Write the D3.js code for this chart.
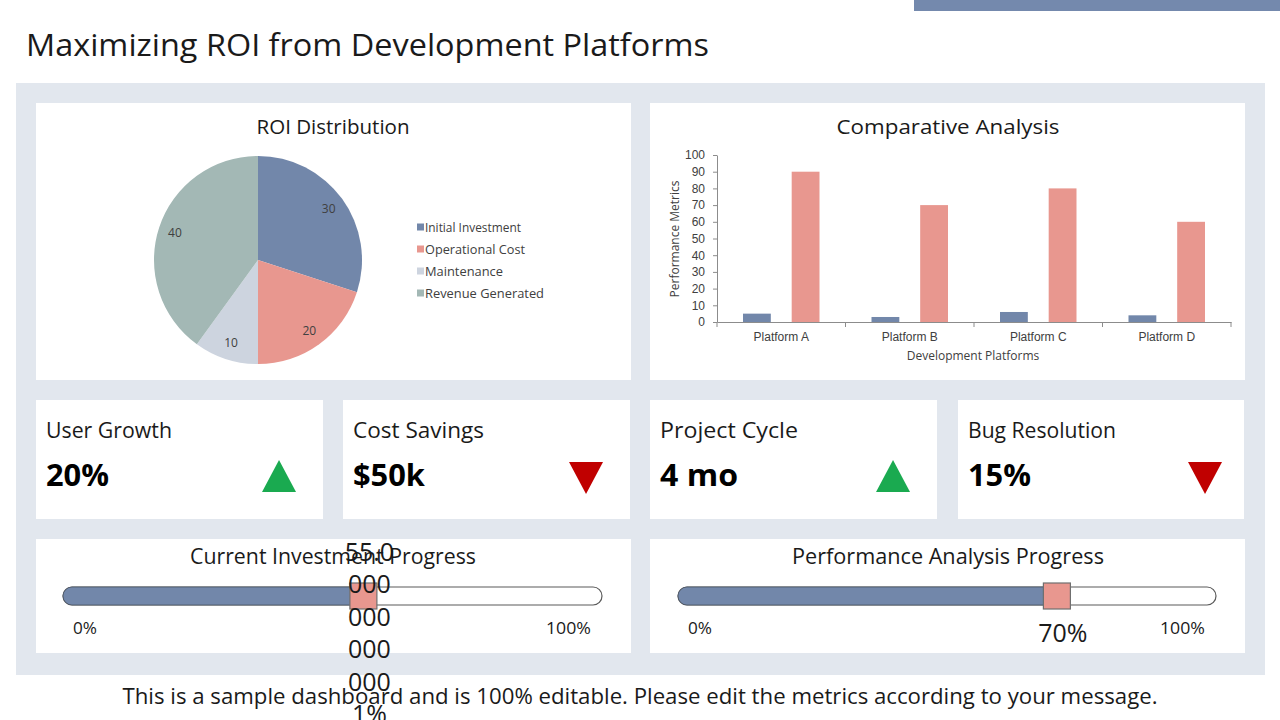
<!DOCTYPE html>
<html><head><meta charset="utf-8">
<script src="https://cdn.jsdelivr.net/npm/d3@7"></script>
<style>
html,body{margin:0;padding:0;background:#fff;}
svg{display:block;font-family:"Open Sans","Noto Sans",sans-serif;}
</style></head>
<body>
<svg id="chart" width="1280" height="720"></svg>
<script>
// ---------- DATA ----------
const pageTitle = "Maximizing ROI from Development Platforms";
const footerText = "This is a sample dashboard and is 100% editable. Please edit the metrics according to your message.";
const pieTitle = "ROI Distribution";
const pieCategories = ["Initial Investment", "Operational Cost", "Maintenance", "Revenue Generated"];
const pieValues = [30, 20, 10, 40];
const barTitle = "Comparative Analysis";
const platforms = ["Platform A", "Platform B", "Platform C", "Platform D"];
const seriesNames = ["Series 1", "Series 2"];
const series1Values = [5, 3, 6, 4];
const series2Values = [90, 70, 80, 60];
const yTickValues = [0, 10, 20, 30, 40, 50, 60, 70, 80, 90, 100];
const xAxisTitle = "Development Platforms";
const yAxisTitle = "Performance Metrics";
const kpiLabels = ["User Growth", "Cost Savings", "Project Cycle", "Bug Resolution"];
const kpiValues = ["20%", "$50k", "4 mo", "15%"];
const kpiTrends = ["up", "down", "up", "down"];
const progressTitles = ["Current Investment Progress", "Performance Analysis Progress"];
const progressFractions = [0.55, 0.70];
const progressEndLabels = ["0%", "100%"];

// ---------- STYLE ----------
const C = {
  blue: "#7287aa", salmon: "#e8978f", light: "#cdd4df", sage: "#a3b8b5",
  panel: "#e2e7ee", text: "#1a1a1a", sub: "#404040", axis: "#8c8c8c",
  green: "#1aaa50", red: "#c00000"
};
const pieColors = [C.blue, C.salmon, C.light, C.sage];
const seriesColors = [C.blue, C.salmon];

const svg = d3.select("#chart");

function fit(sel, w) {
  const n = sel.node();
  const L = n.getComputedTextLength();
  if (L > 0) sel.attr("textLength", w).attr("lengthAdjust", "spacingAndGlyphs");
  return sel;
}

// top bar and title
svg.append("rect").attr("x", 914).attr("y", 0).attr("width", 366).attr("height", 11).attr("fill", "#7489ad");
fit(svg.append("text").attr("x", 26).attr("y", 56).attr("font-size", 31).attr("fill", C.text).text(pageTitle), 683);

// panel
svg.append("rect").attr("x", 16).attr("y", 83).attr("width", 1249).attr("height", 592).attr("fill", C.panel);

// cards
const cards = [
  [36, 103, 595, 277], [650, 103, 595, 277],
  [36, 400, 287, 119], [343, 400, 287, 119], [650, 400, 287, 119], [958, 400, 286, 119],
  [36, 539, 595, 114], [650, 539, 595, 114]
];
svg.selectAll("rect.card").data(cards).join("rect").attr("class", "card")
  .attr("x", d => d[0]).attr("y", d => d[1]).attr("width", d => d[2]).attr("height", d => d[3]).attr("fill", "#fff");

// ---------- PIE ----------
fit(svg.append("text").attr("x", 333).attr("y", 134).attr("text-anchor", "middle").attr("font-size", 20).attr("fill", C.text).text(pieTitle), 153);
const pieG = svg.append("g").attr("transform", "translate(258,260)");
const pie = d3.pie().sort(null).value(d => d);
const R = 104;
const arc = d3.arc().innerRadius(0).outerRadius(R);
const labelArc = d3.arc().innerRadius(R * 0.84).outerRadius(R * 0.84);
const arcs = pie(pieValues);
pieG.selectAll("path").data(arcs).join("path").attr("d", arc).attr("fill", (d, i) => pieColors[i]);
pieG.selectAll("text").data(arcs).join("text")
  .attr("transform", d => `translate(${labelArc.centroid(d)})`)
  .attr("text-anchor", "middle").attr("dy", "0.35em").attr("font-size", 12).attr("fill", C.sub)
  .text(d => d.data);
const legendY = d3.scalePoint().domain(pieCategories).range([227, 293]);
const legW = [96, 100, 78, 119];
pieCategories.forEach((c, i) => {
  svg.append("rect").attr("x", 417).attr("y", legendY(c) - 3.5).attr("width", 7).attr("height", 7).attr("fill", pieColors[i]);
  fit(svg.append("text").attr("x", 425).attr("y", legendY(c) + 4.5).attr("font-size", 13).attr("fill", C.sub).text(c), legW[i]);
});

// ---------- BARS ----------
fit(svg.append("text").attr("x", 948).attr("y", 134).attr("text-anchor", "middle").attr("font-size", 20).attr("fill", C.text).text(barTitle), 223);
const x0 = d3.scaleBand().domain(platforms).range([717, 1231]).padding(0);
const x1 = d3.scaleBand().domain(seriesNames).range([26, x0.bandwidth() - 26]).paddingInner(21 / 49);
const y = d3.scaleLinear().domain([0, 100]).range([322, 155]);
const seriesData = [series1Values, series2Values];
const barG = svg.append("g");
platforms.forEach((p, i) => {
  seriesNames.forEach((s, j) => {
    barG.append("rect")
      .attr("x", x0(p) + x1(s)).attr("width", x1.bandwidth())
      .attr("y", y(seriesData[j][i])).attr("height", y(0) - y(seriesData[j][i]))
      .attr("fill", seriesColors[j]);
  });
});
const yAx = svg.append("g").attr("transform", "translate(717,0)")
  .call(d3.axisLeft(y).tickValues(yTickValues).tickSize(4).tickSizeOuter(0).tickPadding(8));
yAx.selectAll("text").attr("font-size", 12).attr("fill", C.sub).attr("font-family", "inherit");
yAx.selectAll("line,path").attr("stroke", C.axis);
const xAx = svg.append("g").attr("transform", "translate(0,322)")
  .call(d3.axisBottom(x0).tickSize(0).tickSizeOuter(0).tickPadding(10));
xAx.selectAll("text").attr("font-size", 12).attr("fill", C.sub).attr("font-family", "inherit");
xAx.selectAll("path").attr("stroke", C.axis);
const bounds = platforms.map(p => x0(p)).concat([x0.range()[1]]);
svg.selectAll("line.xt").data(bounds).join("line").attr("class", "xt")
  .attr("x1", d => d).attr("x2", d => d).attr("y1", 322).attr("y2", 327).attr("stroke", C.axis);
svg.append("text").attr("x", 973).attr("y", 360).attr("text-anchor", "middle").attr("font-size", 12).attr("fill", C.sub).text(xAxisTitle);
svg.append("text").attr("transform", "translate(679,239) rotate(-90)").attr("text-anchor", "middle").attr("font-size", 12).attr("fill", C.sub).text(yAxisTitle);

// ---------- KPI ----------
const kpiX = [36, 343, 650, 958];
const kpiLabW = [126, 131, 138, 148];
const kpiValW = [63, 72, 78, 63];
kpiLabels.forEach((l, i) => {
  const x = kpiX[i];
  fit(svg.append("text").attr("x", x + 10).attr("y", 438).attr("font-size", 21).attr("fill", C.text).text(l), kpiLabW[i]);
  fit(svg.append("text").attr("x", x + 10).attr("y", 486).attr("font-size", 30).attr("font-weight", "bold").attr("fill", "#000").text(kpiValues[i]), kpiValW[i]);
  const cx = x + 287 - 44 + (i === 3 ? 4 : 0), w = 34, h = 32;
  const pts = kpiTrends[i] === "up"
    ? [[cx, 460], [cx - w / 2, 460 + h], [cx + w / 2, 460 + h]]
    : [[cx - w / 2, 462], [cx + w / 2, 462], [cx, 462 + h]];
  svg.append("path").attr("d", d3.line()(pts) + "Z").attr("fill", kpiTrends[i] === "up" ? C.green : C.red);
});

// footer
fit(svg.append("text").attr("x", 640).attr("y", 704).attr("text-anchor", "middle").attr("font-size", 21).attr("fill", C.text).text(footerText), 1035);

// ---------- PROGRESS ----------
const progX = [[63, 602], [678, 1216]];
const progTitleW = [286, 312];
const labelLayers = [];
progressTitles.forEach((t, i) => {
  const [a, b] = progX[i];
  const cardCx = i === 0 ? 333 : 948;
  const xs = d3.scaleLinear().domain([0, 100]).range([a + 10, b - 1]);
  const v = progressFractions[i] * 100;
  const mx = xs(v);
  svg.append("rect").attr("x", a).attr("y", 587).attr("width", b - a).attr("height", 18).attr("rx", 9)
    .attr("fill", "#fff").attr("stroke", "#5a5a5a").attr("stroke-width", 1.2);
  svg.append("rect").attr("x", a).attr("y", 587).attr("width", mx - a + 4).attr("height", 18).attr("rx", 9)
    .attr("fill", C.blue).attr("stroke", "#4a5566").attr("stroke-width", 0.8);
  svg.append("rect").attr("x", mx - 13.5).attr("y", 583).attr("width", 27).attr("height", 26)
    .attr("fill", C.salmon).attr("stroke", "#6f6f6f").attr("stroke-width", 1.2);
  fit(svg.append("text").attr("x", a + 10).attr("y", 634).attr("font-size", 17).attr("fill", C.text).text(progressEndLabels[0]), 24);
  fit(svg.append("text").attr("x", b - 11).attr("y", 634).attr("text-anchor", "end").attr("font-size", 17).attr("fill", C.text).text(progressEndLabels[1]), 45);
  fit(svg.append("text").attr("x", cardCx).attr("y", 564).attr("text-anchor", "middle").attr("font-size", 21).attr("fill", C.text).text(t), progTitleW[i]);
  // value label (wrapped like the original text box)
  const s = String(v) + "%";
  const lines = [s.slice(0, 4)];
  for (let k = 4; k < s.length; k += 3) lines.push(s.slice(k, k + 3));
  labelLayers.push({ x: mx + 6, lines });
});
labelLayers.forEach(L => {
  const n = L.lines.length, lh = 32.5;
  const tx = svg.append("text").attr("text-anchor", "middle").attr("font-size", 25).attr("fill", C.text);
  L.lines.forEach((ln, k) => {
    tx.append("tspan").attr("x", L.x).attr("y", 633 + (k - (n - 1) / 2) * lh).attr("dy", "0.35em").text(ln);
  });
});
</script>
</body></html>
